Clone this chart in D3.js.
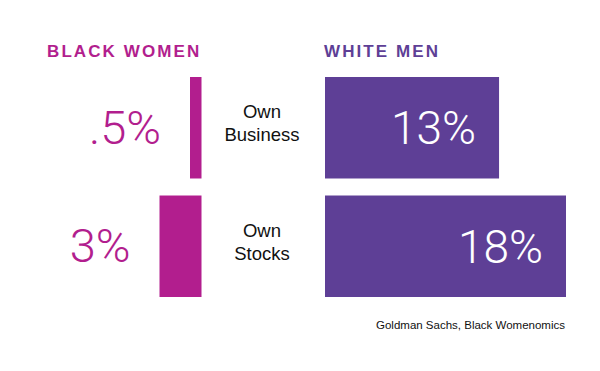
<!DOCTYPE html>
<html>
<head>
<meta charset="utf-8">
<script src="https://cdn.jsdelivr.net/npm/d3@7"></script>
<style>
    body { margin: 0; background: #fff; }
    svg { display: block; font-family: "Liberation Sans", Arial, sans-serif; }
</style>
</head>
<body>
<div id="chart"></div>
<script>
// --- Chart data ---
const categories = [['Own', 'Business'], ['Own', 'Stocks']];
const blackWomen = [0.5, 3];
const whiteMen = [13, 18];
const valueLabelsLeft = ['.5%', '3%'];
const valueLabelsRight = ['13%', '18%'];
const groupTitles = ['BLACK WOMEN', 'WHITE MEN'];
const source = 'Goldman Sachs, Black Womenomics';

const colors = { women: '#b21e8e', men: '#5e3f96', text: '#111' };

const width = 600, height = 371;
const svg = d3.select('#chart').append('svg')
    .attr('width', width)
    .attr('height', height);

const y = d3.scaleBand()
    .domain(d3.range(categories.length))
    .range([77, 297])
    .paddingInner(0.1435);

// each side has its own scale, the left one runs leftwards
const xRight = d3.scaleLinear().domain([0, 18]).range([325, 566]);
const xLeft = d3.scaleLinear().domain([0, 3]).range([201.5, 159.5]);
const minBarW = 11.5; // keep the tiny bar visible

const leftEdge = d => Math.min(xLeft(d), xLeft(0) - minBarW);

// group titles
svg.append('text')
    .attr('x', 47).attr('y', 57)
    .attr('fill', colors.women)
    .attr('font-size', 17).attr('font-weight', 'bold')
    .attr('letter-spacing', 2.1)
    .text(groupTitles[0]);
svg.append('text')
    .attr('x', 324).attr('y', 57)
    .attr('fill', colors.men)
    .attr('font-size', 17).attr('font-weight', 'bold')
    .attr('letter-spacing', 2.1)
    .text(groupTitles[1]);

// left bars
svg.selectAll('.bar-left').data(blackWomen).join('rect')
    .attr('class', 'bar-left')
    .attr('x', d => leftEdge(d))
    .attr('width', d => xLeft(0) - leftEdge(d))
    .attr('y', (d, i) => y(i))
    .attr('height', y.bandwidth())
    .attr('fill', colors.women);

svg.selectAll('.val-left').data(blackWomen).join('text')
    .attr('class', 'val-left')
    .attr('x', d => leftEdge(d) - 29)
    .attr('y', (d, i) => y(i) + y.bandwidth() / 2 + 16)
    .attr('text-anchor', 'end')
    .attr('fill', colors.women)
    .attr('font-family', 'Roboto, sans-serif')
    .attr('font-weight', 300)
    .attr('font-size', 47)
    .text((d, i) => valueLabelsLeft[i]);

// right bars
svg.selectAll('.bar-right').data(whiteMen).join('rect')
    .attr('class', 'bar-right')
    .attr('x', xRight(0))
    .attr('width', d => xRight(d) - xRight(0))
    .attr('y', (d, i) => y(i))
    .attr('height', y.bandwidth())
    .attr('fill', colors.men);

svg.selectAll('.val-right').data(whiteMen).join('text')
    .attr('class', 'val-right')
    .attr('x', d => xRight(d) - 23)
    .attr('y', (d, i) => y(i) + y.bandwidth() / 2 + 16.5)
    .attr('text-anchor', 'end')
    .attr('fill', '#fff')
    .attr('font-family', 'Roboto, sans-serif')
    .attr('font-weight', 300)
    .attr('font-size', 46)
    .text((d, i) => valueLabelsRight[i]);

// category labels in the middle
const cat = svg.selectAll('.cat').data(categories).join('text')
    .attr('class', 'cat')
    .attr('text-anchor', 'middle')
    .attr('fill', colors.text)
    .attr('font-size', 18.5);
cat.selectAll('tspan').data((d, i) => d.map(line => ({ line, i }))).join('tspan')
    .attr('x', 262)
    .attr('y', (d, j) => y(d.i) + 41 + j * 23)
    .text(d => d.line);

// source note
svg.append('text')
    .attr('x', 565).attr('y', 329)
    .attr('text-anchor', 'end')
    .attr('fill', colors.text)
    .attr('font-size', 11.5)
    .text(source);
</script>
</body>
</html>
